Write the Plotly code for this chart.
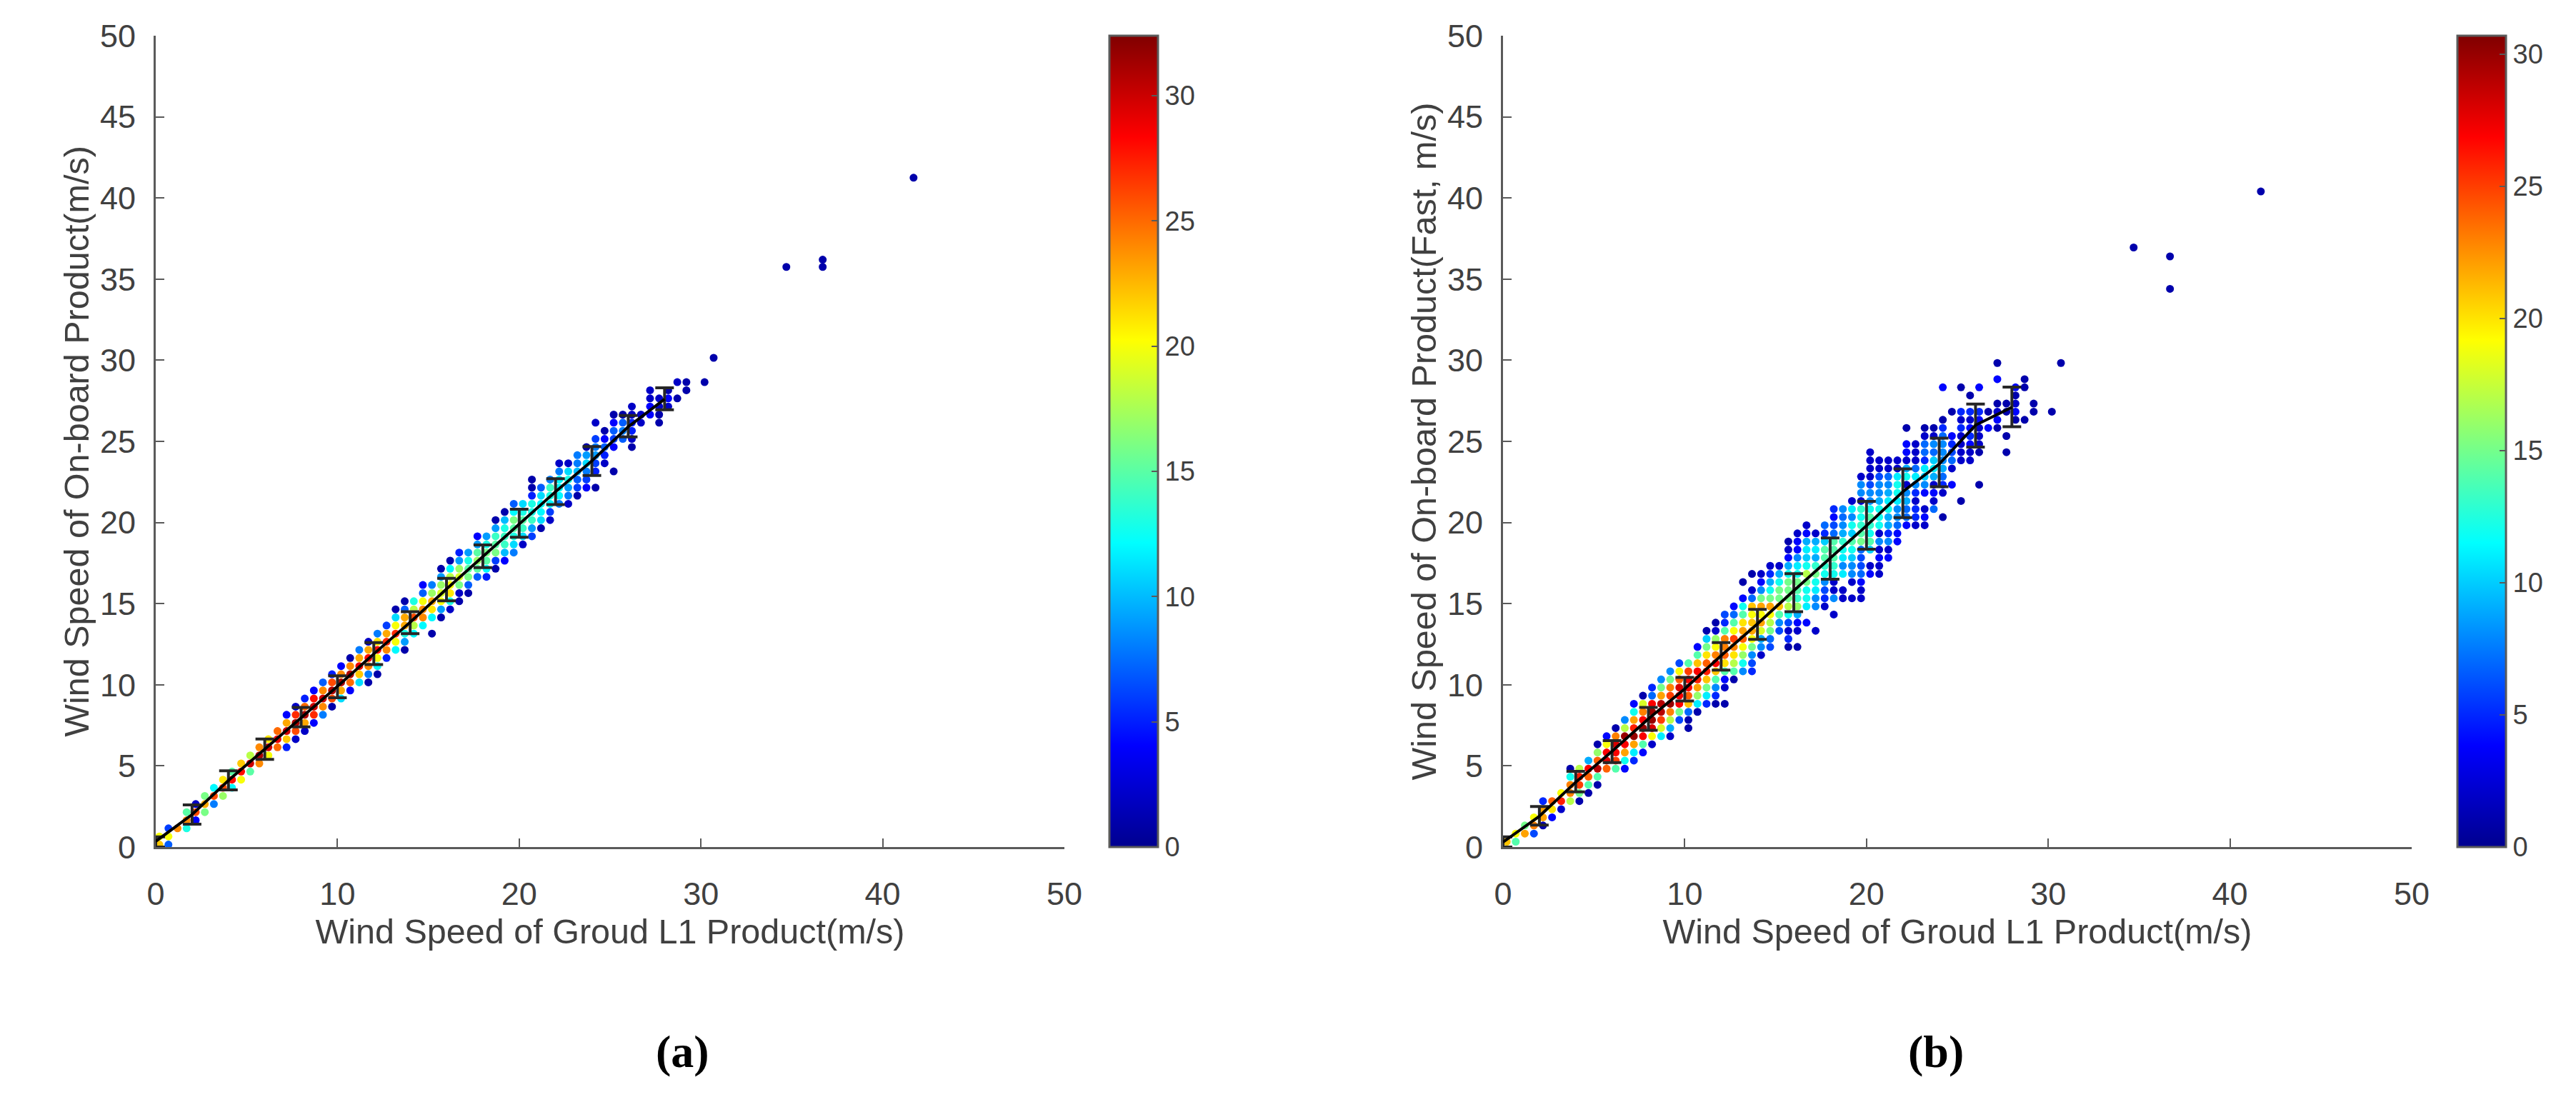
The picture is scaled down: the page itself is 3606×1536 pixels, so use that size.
import plotly.graph_objects as go

# wind speed scatter grids. each column: x, first row, counts going up
# None = gap in the column
a_y_origin = 0.15
a_x = [0.2,0.7,1.2,1.7,2.2,2.7,3.2,3.7,4.2,4.7,5.2,5.7,6.2,6.7,7.2,7.7,8.2,8.7,9.2,9.7,
       10.2,10.7,11.2,11.7,12.2,12.7,13.2,13.7,14.2,14.7,15.2,15.7,16.2,16.7,17.2,17.7,18.2,18.7,19.2,19.7,
       20.2,20.7,21.2,21.7,22.2,22.7,23.2,23.7,24.2,24.7,25.2,25.7,26.2,26.7,27.2,27.7,28.2,28.7,29.2,30.2,30.7]
a_first_row = [0,0,2,2,3,4,5,6,7,8,9,10,11,12,12,13,14,15,16,17,
               18,19,20,20,21,23,24,24,26,27,26,28,29,30,31,33,33,34,35,36,
               37,38,39,40,42,42,43,44,44,47,46,50,49,52,53,52,54,55,56,57,60]
a_counts = [
    [22,20],[7,20,6],[24],[13,24,15],[4,26,2],[16,23,16],[8,26,12],[17,26,21],[12,28,15],[20,28,22],
    [15,30,18],[24,31,24],[20,30,21],[25,29,25],[5,22,30,23,4],[2,26,31,27,2],[2,23,31,25,5],[4,27,30,28,4],[8,24,30,24,7],[1,26,31,26,5],
    [11,23,31,24,4],[4,25,31,24,1],[11,22,29,23,8],[1,8,24,28,23,2],[1,12,20,28,21,8],[5,24,27,23,6],[12,20,27,20,11,1],[1,9,13,23,23,7,1],[12,18,26,18,13],[12,24,24,20,7,4],
    [1,None,12,21,23,17,8],[1,9,20,19,17,9,1],[2,13,21,20,18,12,1],[1,2,16,19,17,9,5],[1,7,16,15,13,9],[7,15,17,15,9,4],[5,12,15,16,13,9],[1,6,16,15,14,9,1],[4,10,14,14,13,10,1],[8,11,13,15,16,12,7],
    [2,11,14,15,13,11],[6,9,14,13,13,5,1,1],[1,11,12,12,11,7],[2,6,12,13,14,8],[8,12,12,12,8,2],[2,8,9,13,11,2],[1,6,7,10,8,8],[4,6,8,11,9,1],[1,None,5,6,9,8,6,None,2],[2,5,7,4,1],
    [1,None,None,4,6,7,4,1],[7,8,7,1],[1,2,5,5,2,2],[2,2],[4,4,2,2],[1,1,2,2],[2,4,1],[1,None,2],[1,1],[1],[1],
]
a_out_x = [34.7,36.7,36.7,41.7]
a_out_y = [35.75,35.75,36.2,41.25]
a_out_v = [1,1,1,1]

b_y_origin = -0.17
b_x = [0.2,0.7,1.2,1.7,2.2,2.7,3.2,3.7,4.2,4.7,5.2,5.7,6.2,6.7,7.2,7.7,8.2,8.7,9.2,9.7,
       10.2,10.7,11.2,11.7,12.2,12.7,13.2,13.7,14.2,14.7,15.2,15.7,16.2,16.7,17.2,17.7,18.2,18.7,19.2,19.7,
       20.2,20.7,21.2,21.7,22.2,22.7,23.2,23.7,24.2,24.7,25.2,25.7,26.2,26.7,27.2,27.7,28.2,28.7,29.2,30.2,30.7]
b_first_row = [0,1,2,2,3,4,5,6,6,7,8,10,10,10,11,12,13,14,14,16,
               15,17,18,18,18,21,22,22,24,25,27,25,25,28,27,30,29,31,31,31,
               34,34,36,38,40,40,40,42,41,45,43,48,45,52,52,49,53,53,54,54,60]
b_counts = [
    [19,21],[14,19],[22,15],[6,23,19],[1,22,22,5],[4,20,24],[2,26,19],[17,23,23,12,1],[1,15,25,26,17],[1,14,24,27,9],
    [1,14,29,24,16,1],[24,28,27,19,4],[14,25,27,28,23,1],[4,12,22,27,30,17,8],[5,11,22,30,26,22,12,4],[4,14,27,30,27,23,18,1],[2,19,28,30,30,27,7,5],[11,18,25,29,29,22,15,8],[2,9,17,23,30,25,23,15,8],[6,15,27,27,28,24,19,6],
    [1,1,7,21,24,27,27,25,14],[1,11,16,22,26,27,21,14,4],[5,11,15,21,26,24,20,15,10,1],[1,5,8,14,21,27,23,19,16,2,1],[1,None,2,4,14,20,24,23,23,14,5,6],[1,14,17,20,23,25,19,14,7,4],[8,12,16,19,24,22,20,14,12,4,None,1],[5,6,8,15,19,22,21,19,21,7,2,None,1],[2,8,9,18,22,19,22,15,8,4,2],[6,7,15,17,19,22,15,12,9,5,2],
    [6,8,14,21,15,15,12,9,2],[1,5,2,6,12,17,15,15,15,12,9,4,2,1],[1,None,2,4,9,16,13,14,15,12,11,8,4,4,2],[4,None,11,12,12,15,17,12,10,11,9,4,2],[2,None,None,8,8,11,12,15,13,9,11,9,2],[2,5,6,8,12,13,14,14,10,5,7],[2,None,8,2,2,12,13,14,14,14,7,6,4,5],[2,2,None,11,8,11,12,13,9,8,7,8],[2,None,2,8,8,10,12,14,10,12,8,11,2],[2,2,4,7,6,6,7,15,14,13,12,13,2,8,8,2],
    [4,2,None,10,14,12,13,14,12,8,8,6,2,2,2,2],[2,2,4,2,8,2,12,12,12,9,8,8,6,2,2],[4,2,8,5,9,9,12,11,9,8,7,2,2],[4,4,7,8,8,11,12,12,11,2,2],[4,7,7,9,8,2,12,9,2,4,4,None,1],[2,5,5,2,5,8,11,7,2,2,2],[2,4,2,None,4,8,10,11,5,7,7,2,1],[7,2,4,2,9,11,10,7,8,2,1],[1,None,None,2,5,7,9,8,8,8,7,5,1,None,None,None,4],[4,None,2,7,6,5,4,None,None,1],
    [1,None,None,None,None,2,2,2,2,5,2,5,None,None,1],[2,2,4,5,4,2,5,None,1],[1,None,None,None,1,2,2,2,4,5,None,None,4],[4,None,1],[1,4,2,1,None,None,4,None,1],[1,None,1,None,None,1,1],[1,4,2,1,4],[1,None,None,None,1,1],[1,1],[1],[1],
]
b_out_x = [34.7,36.7,36.7,41.7]
b_out_y = [36.95,34.4,36.4,40.4]
b_out_v = [1,1,1,1]

# mean line with error bars
bin_x = [0,2,4,6,8,10,12,14,16,18,20,22,24,26,28]
a_mean = [0.35,2.0,4.1,6.03,8.0,9.9,11.9,13.85,15.9,17.9,19.95,21.9,23.8,25.9,27.6]
a_top = [0.63,2.6,4.7,6.66,8.6,10.55,12.6,14.5,16.56,18.62,20.82,22.7,24.68,26.6,28.3]
a_bot = [0,1.41,3.52,5.4,7.41,9.2,11.25,13.15,15.17,17.22,19.09,21.1,22.9,25.27,26.95]
b_mean = [0.3,1.9,4.0,5.9,7.9,9.75,11.8,13.75,15.8,17.8,19.8,21.9,23.6,26.0,27.1]
b_top = [0.63,2.5,4.67,6.56,8.6,10.45,12.6,14.65,16.85,19.05,21.3,23.3,25.2,27.3,28.35]
b_bot = [0,1.35,3.4,5.2,7.2,9.0,10.9,12.8,14.5,16.5,18.35,20.3,22.2,24.65,25.9]

a_cmax = 32.4
b_cmax = 30.7
cbar_ticks = [0,5,10,15,20,25,30]

jet = [[0,"#00008f"],[0.125,"#0000ff"],[0.375,"#00ffff"],[0.625,"#ffff00"],[0.875,"#ff0000"],[1,"#800000"]]

W, H = 3606, 1536
TXT = "#404040"
AX = "#5a5a5a"
FONT = "Liberation Sans"


def grid_points(xs, first_rows, counts, y_origin, out_x, out_y, out_v):
    px, py, pv = [], [], []
    for x, r0, col in zip(xs, first_rows, counts):
        for i, v in enumerate(col):
            if v is None:
                continue
            px.append(x)
            py.append(y_origin + 0.5 * (r0 + i))
            pv.append(v)
    return px + out_x, py + out_y, pv + out_v


def add_panel(fig, xref, yref, pts, cmax, cbar_x, mean, top, bot):
    fig.add_trace(go.Scatter(
        x=pts[0], y=pts[1], xaxis=xref, yaxis=yref, mode="markers", cliponaxis=False, showlegend=False,
        marker=dict(size=11, color=pts[2], cmin=0, cmax=cmax, colorscale=jet, line=dict(width=0),
                    colorbar=dict(x=cbar_x, xanchor="left", xpad=0, ypad=0, y=350 / H, yanchor="bottom",
                                  lenmode="fraction", len=1136 / H, thicknessmode="pixels", thickness=68,
                                  outlinecolor=AX, outlinewidth=3, tickmode="array", tickvals=cbar_ticks,
                                  ticks="inside", ticklen=10, tickwidth=2, tickcolor=AX,
                                  tickprefix="\u200b\u00a0",  # small gap between bar and labels
                                  tickfont=dict(family=FONT, size=38, color=TXT)))))
    fig.add_trace(go.Scatter(
        x=bin_x, y=mean, xaxis=xref, yaxis=yref, mode="lines", cliponaxis=False, showlegend=False,
        line=dict(color="black", width=4),
        error_y=dict(type="data", symmetric=False,
                     array=[t - m for t, m in zip(top, mean)],
                     arrayminus=[m - b for m, b in zip(mean, bot)],
                     color="#262626", thickness=4, width=13)))


fig = go.Figure()
add_panel(fig, "x", "y", grid_points(a_x, a_first_row, a_counts, a_y_origin, a_out_x, a_out_y, a_out_v),
          a_cmax, 1553 / W, a_mean, a_top, a_bot)
add_panel(fig, "x2", "y2", grid_points(b_x, b_first_row, b_counts, b_y_origin, b_out_x, b_out_y, b_out_v),
          b_cmax, 3440 / W, b_mean, b_top, b_bot)

ax_common = dict(range=[0, 50], showgrid=False, zeroline=False, showline=True, linecolor=AX, linewidth=3,
                 automargin=False, ticks="inside", ticklen=12, tickwidth=2, tickcolor=AX,
                 tickfont=dict(family=FONT, size=45, color=TXT))
xt = dict(family=FONT, size=48.5, color=TXT)
y_dom = [350 / H, 1486 / H]

fig.update_layout(
    template="none",
    width=W, height=H, margin=dict(l=0, r=0, t=0, b=0, autoexpand=False), paper_bgcolor="white", plot_bgcolor="white",
    xaxis=dict(domain=[218 / W, 1490 / W], anchor="y", dtick=10, ticklabelstandoff=24,
               title=dict(text="Wind Speed of Groud L1 Product(m/s)", font=xt, standoff=6), **ax_common),
    yaxis=dict(domain=y_dom, anchor="x", dtick=5, ticklabelstandoff=16,
               title=dict(text="Wind Speed of On-board Product(m/s)", font=xt, standoff=0), **ax_common),
    xaxis2=dict(domain=[2104 / W, 3376 / W], anchor="y2", dtick=10, ticklabelstandoff=24,
                title=dict(text="Wind Speed of Groud L1 Product(m/s)", font=xt, standoff=6), **ax_common),
    yaxis2=dict(domain=y_dom, anchor="x2", dtick=5, ticklabelstandoff=16,
                title=dict(text="Wind Speed of On-board Product(Fast, m/s)", font=xt, standoff=0), **ax_common),
)

for label, cx in [("(a)", 955), ("(b)", 2710)]:
    fig.add_annotation(text="<b>%s</b>" % label, x=cx / W, y=(H - 1472) / H, xref="paper", yref="paper",
                       xanchor="center", yanchor="middle", showarrow=False,
                       font=dict(family="Liberation Serif", size=64, color="black"))

fig.write_html("out.html", config={"displayModeBar": False}, post_script="document.body.style.margin='0';")
